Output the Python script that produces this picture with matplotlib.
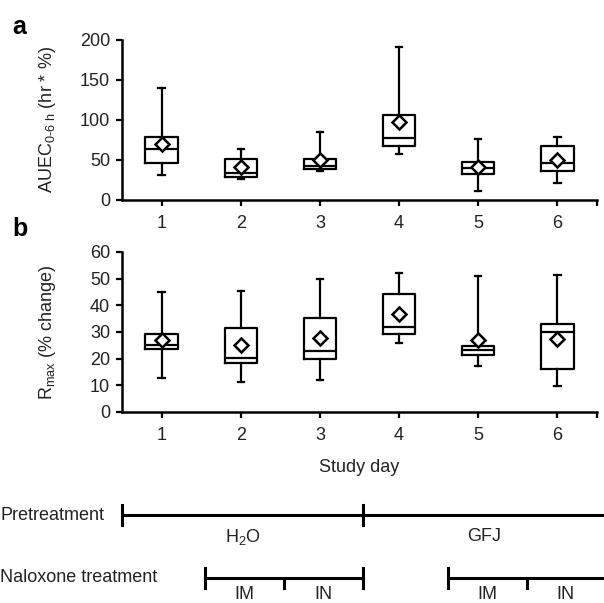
import matplotlib
matplotlib.use("Agg")
import matplotlib.pyplot as plt

plt.rcParams['font.family'] = ['Liberation Sans', 'DejaVu Sans']
plt.rcParams['font.size'] = 13
plt.rcParams['mathtext.fontset'] = 'custom'
plt.rcParams['mathtext.rm'] = 'Liberation Sans'

days = [1, 2, 3, 4, 5, 6]

# panel a: AUEC 0-6 h
auec_low = [30.8, 26.3, 36.7, 57.5, 11.3, 21.3]
auec_q1 = [46.3, 29.2, 38.3, 68.0, 32.5, 36.7]
auec_med = [63.3, 34.2, 42.5, 77.0, 40.0, 46.7]
auec_q3 = [78.8, 50.8, 51.3, 106.3, 47.5, 67.0]
auec_high = [140.4, 63.3, 84.6, 191.7, 75.8, 78.3]
auec_mean = [70.4, 40.8, 50.0, 97.0, 40.8, 50.0]

# panel b: Rmax
rmax_low = [12.9, 11.3, 12.0, 26.0, 17.4, 9.6]
rmax_q1 = [23.5, 18.5, 19.9, 29.3, 21.5, 16.3]
rmax_med = [25.0, 20.4, 23.0, 31.9, 23.1, 30.0]
rmax_q3 = [29.4, 31.6, 35.1, 44.4, 24.8, 32.9]
rmax_high = [45.0, 45.4, 50.0, 52.3, 50.9, 51.5]
rmax_mean = [26.9, 25.0, 27.6, 36.6, 26.9, 27.5]

# timeline (in study-day units)
pre_bounds = [0.5, 3.55, 6.6]
pre_labels = ['H$_\\mathrm{2}$O', 'GFJ']
nal_groups = [[1.55, 2.55, 3.55], [4.62, 5.61, 6.6]]
nal_labels = ['IM', 'IN']


def stats(low, q1, med, q3, high):
    out = []
    for i in range(len(low)):
        out.append(dict(whislo=low[i], q1=q1[i], med=med[i], q3=q3[i],
                        whishi=high[i], fliers=[]))
    return out


def panel(ax, st, means, ylim, yticks):
    lw = 1.6
    ax.bxp(st, positions=days, widths=0.41, capwidths=0.08, showfliers=False,
           boxprops=dict(color='black', linewidth=lw),
           medianprops=dict(color='black', linewidth=lw),
           whiskerprops=dict(color='black', linewidth=lw),
           capprops=dict(color='black', linewidth=lw))
    ax.plot(days, means, linestyle='none', marker='D', markersize=7,
            markerfacecolor='white', markeredgecolor='black',
            markeredgewidth=1.8, zorder=5)
    ax.set_xlim(0.5, 6.5)
    ax.set_ylim(*ylim)
    ax.set_yticks(yticks)
    ax.set_xticks(days)
    ax.set_xticklabels([str(d) for d in days])
    ax.set_xticks([6.5], minor=True)
    for s in ['top', 'right']:
        ax.spines[s].set_visible(False)
    for s in ['left', 'bottom']:
        ax.spines[s].set_linewidth(1.8)
    ax.tick_params(axis='both', which='both', width=1.6, length=4.5,
                   colors='black', labelcolor='#222222', labelsize=13)
    ax.tick_params(axis='y', pad=4)
    ax.tick_params(axis='x', pad=6)


fig = plt.figure(figsize=(6.04, 6.03), dpi=100)
left = 122 / 604
width = (597 - 122) / 604

ax_a = fig.add_axes([left, 1 - 200 / 603, width, 160 / 603])
panel(ax_a, stats(auec_low, auec_q1, auec_med, auec_q3, auec_high),
      auec_mean, (0, 200), [0, 50, 100, 150, 200])
ax_a.set_ylabel('AUEC$_\\mathrm{0\u20106\\ h}$ (hr * %)', fontsize=13,
                color='#222222')
ax_a.yaxis.set_label_coords(-0.135, 0.5)

ax_b = fig.add_axes([left, 1 - 412 / 603, width, 160 / 603])
panel(ax_b, stats(rmax_low, rmax_q1, rmax_med, rmax_q3, rmax_high),
      rmax_mean, (0, 60), [0, 10, 20, 30, 40, 50, 60])
ax_b.set_ylabel('R$_\\mathrm{max}$ (% change)', fontsize=13, color='#222222')
ax_b.yaxis.set_label_coords(-0.135, 0.5)
ax_b.set_xlabel('Study day', fontsize=13, labelpad=11, color='#222222')

fig.text(12 / 604, 1 - 27 / 603, 'a', fontsize=18, fontweight='bold',
         ha='left', va='center')
fig.text(12 / 604, 1 - 229 / 603, 'b', fontsize=18, fontweight='bold',
         ha='left', va='center')

# timeline
ax_t = fig.add_axes([left, 0, width, 113 / 603])
ax_t.set_xlim(0.5, 6.5)
ax_t.set_ylim(0, 1)
ax_t.axis('off')
tl = 2.2
y_pre = 0.78
ax_t.plot([pre_bounds[0], pre_bounds[-1]], [y_pre, y_pre], color='black',
          lw=tl, clip_on=False, solid_capstyle='butt')
for x in pre_bounds[:-1]:
    ax_t.plot([x, x], [y_pre - 0.09, y_pre + 0.09], color='black', lw=tl,
              clip_on=False)
for i, lab in enumerate(pre_labels):
    xm = (pre_bounds[i] + pre_bounds[i + 1]) / 2
    ax_t.text(xm, 0.585, lab, ha='center', va='center', fontsize=13,
              color='#222222')

y_nal = 0.22
for g in nal_groups:
    ax_t.plot([g[0], g[-1]], [y_nal, y_nal], color='black', lw=tl,
              clip_on=False, solid_capstyle='butt')
    ax_t.plot([g[0], g[0]], [y_nal - 0.09, y_nal + 0.09], color='black',
              lw=tl, clip_on=False)
    ax_t.plot([g[1], g[1]], [y_nal - 0.09, y_nal], color='black', lw=tl,
              clip_on=False)
    if g[-1] < 6.5:
        ax_t.plot([g[-1], g[-1]], [y_nal - 0.09, y_nal + 0.09],
                  color='black', lw=tl, clip_on=False)
    for j, lab in enumerate(nal_labels):
        xm = (g[j] + g[j + 1]) / 2
        ax_t.text(xm, 0.0, lab, ha='center', va='bottom', fontsize=13,
                  color='#222222')

fig.text(0.0, 1 - 515 / 603, 'Pretreatment', ha='left', va='center',
         fontsize=13, color='#222222')
fig.text(0.0, 1 - 578 / 603, 'Naloxone treatment', ha='left', va='center',
         fontsize=13, color='#222222')

fig.savefig('out.png', dpi=100)
